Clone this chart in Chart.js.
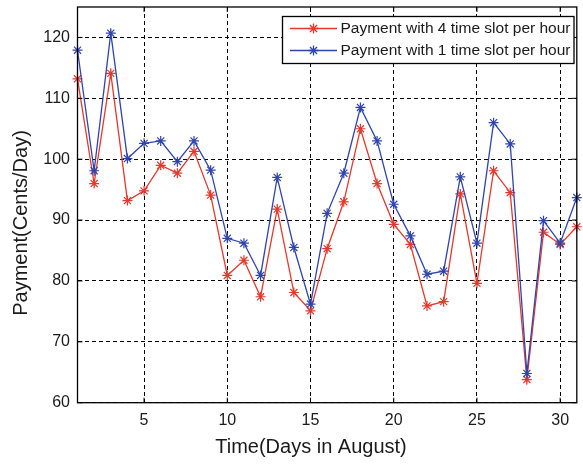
<!DOCTYPE html>
<html>
<head>
<meta charset="utf-8">
<script src="https://cdn.jsdelivr.net/npm/chart.js@4.4.1/dist/chart.umd.min.js"></script>
<style>
  html, body { margin: 0; padding: 0; background: #fff; }
  #wrap { width: 583px; height: 464px; position: relative; }
</style>
</head>
<body>
<div id="wrap"><canvas id="c"></canvas></div>
<script>
// Daily payment in August, two pricing granularities
const days = [1, 2, 3, 4, 5, 6, 7, 8, 9, 10, 11, 12, 13, 14, 15, 16,
              17, 18, 19, 20, 21, 22, 23, 24, 25, 26, 27, 28, 29, 30, 31];
const pay4Slots = [113.2, 96.0, 114.1, 93.2, 94.8, 99.0, 97.7, 101.3, 94.1, 80.9, 83.4,
                   77.4, 91.8, 78.1, 75.1, 85.3, 93.0, 105.0, 96.0, 89.3, 86.0, 75.9,
                   76.6, 94.3, 79.6, 98.1, 94.5, 63.8, 88.0, 86.0, 88.9];
const pay1Slot = [117.9, 98.1, 120.7, 100.1, 102.6, 103.0, 99.6, 103.0, 98.2, 87.0, 86.2,
                  80.9, 97.0, 85.5, 76.2, 91.1, 97.7, 108.5, 103.0, 92.6, 87.4, 81.1,
                  81.6, 97.1, 86.2, 106.0, 102.5, 64.8, 89.9, 86.2, 93.7];
const xTicks = [5, 10, 15, 20, 25, 30];
const yTicks = [60, 70, 80, 90, 100, 110, 120];
const seriesNames = ['Payment with 4 time slot per hour', 'Payment with 1 time slot per hour'];
const xTitle = 'Time(Days in August)';
const yTitle = 'Payment(Cents/Day)';

const RED = '#e5392d';
const BLUE = '#2f44ad';
const FONT = '"Liberation Sans", Arial, Helvetica, sans-serif';
const INK = '#1a1a1a';

function toPoints(vals) {
  return days.map((d, i) => ({ x: d, y: vals[i] }));
}

// Box frame, inward ticks, axis titles and the inset legend
const framePlugin = {
  id: 'frame',
  afterDraw(chart) {
    const { ctx, chartArea: a, scales } = chart;
    ctx.save();
    ctx.strokeStyle = '#000';
    ctx.lineWidth = 1.3;
    ctx.strokeRect(a.left, a.top, a.right - a.left, a.bottom - a.top);

    // inward ticks on all four sides
    ctx.lineWidth = 1;
    const tl = 5;
    ctx.beginPath();
    xTicks.forEach(v => {
      const px = scales.x.getPixelForValue(v);
      ctx.moveTo(px, a.bottom); ctx.lineTo(px, a.bottom - tl);
      ctx.moveTo(px, a.top); ctx.lineTo(px, a.top + tl);
    });
    yTicks.forEach(v => {
      const py = scales.y.getPixelForValue(v);
      ctx.moveTo(a.left, py); ctx.lineTo(a.left + tl, py);
      ctx.moveTo(a.right, py); ctx.lineTo(a.right - tl, py);
    });
    ctx.stroke();

    // axis titles
    ctx.fillStyle = INK;
    ctx.font = '20px ' + FONT;
    ctx.textAlign = 'center';
    ctx.textBaseline = 'middle';
    ctx.fillText(xTitle, 311, 447);
    ctx.save();
    ctx.translate(21, 223);
    ctx.rotate(-Math.PI / 2);
    ctx.fillText(yTitle, 0, 0);
    ctx.restore();

    // legend
    const lx = 282.5, ly = 16.5, lw = 291.5, lh = 47;
    ctx.fillStyle = '#fff';
    ctx.fillRect(lx, ly, lw, lh);
    ctx.strokeStyle = '#000';
    ctx.lineWidth = 1.3;
    ctx.strokeRect(lx, ly, lw, lh);
    const rows = [28.5, 50.5];
    chart.data.datasets.forEach((ds, i) => {
      const y = rows[i];
      ctx.strokeStyle = ds.borderColor;
      ctx.lineWidth = 1.3;
      ctx.beginPath();
      ctx.moveTo(290, y); ctx.lineTo(337, y);
      ctx.stroke();
      Chart.helpers.drawPoint(ctx, {
        pointStyle: 'star', radius: 5, rotation: 0, borderWidth: 1.2
      }, 313.5, y);
      ctx.fillStyle = INK;
      ctx.font = '15.5px ' + FONT;
      ctx.textAlign = 'left';
      ctx.textBaseline = 'middle';
      ctx.fillText(ds.label, 340.5, y + 0.5);
    });
    ctx.restore();
  }
};

const lineStyle = (color) => ({
  borderColor: color,
  backgroundColor: color,
  borderWidth: 1.3,
  pointStyle: 'star',
  pointRadius: 5,
  pointBorderWidth: 1.2,
  pointBorderColor: color,
  pointBackgroundColor: color,
  tension: 0,
  fill: false,
  clip: false
});

new Chart(document.getElementById('c'), {
  type: 'line',
  data: {
    datasets: [
      Object.assign({ label: seriesNames[0], data: toPoints(pay4Slots), order: 2 }, lineStyle(RED)),
      Object.assign({ label: seriesNames[1], data: toPoints(pay1Slot), order: 1 }, lineStyle(BLUE))
    ]
  },
  options: {
    responsive: true,
    maintainAspectRatio: false,
    animation: false,
    layout: { padding: { top: 7, right: 3.6, left: 0, bottom: 0 } },
    plugins: { legend: { display: false }, tooltip: { enabled: false } },
    scales: {
      x: {
        type: 'linear',
        min: 1,
        max: 31,
        afterBuildTicks: s => { s.ticks = xTicks.map(v => ({ value: v })); },
        afterFit: s => { s.height = 61.3; s.paddingLeft = 0; s.paddingRight = 0; },
        grid: { color: '#000', lineWidth: 1, drawTicks: false },
        border: { display: false, dash: [4, 3] },
        ticks: { color: INK, font: { family: FONT, size: 16 }, padding: 8, maxRotation: 0 }
      },
      y: {
        type: 'linear',
        min: 60,
        max: 125,
        afterBuildTicks: s => { s.ticks = yTicks.map(v => ({ value: v })); },
        afterFit: s => { s.width = 77.5; s.paddingTop = 0; s.paddingBottom = 0; },
        grid: { color: '#000', lineWidth: 1, drawTicks: false },
        border: { display: false, dash: [4, 3] },
        ticks: { color: INK, font: { family: FONT, size: 16 }, padding: 7.5 }
      }
    }
  },
  plugins: [framePlugin]
});
</script>
</body>
</html>
